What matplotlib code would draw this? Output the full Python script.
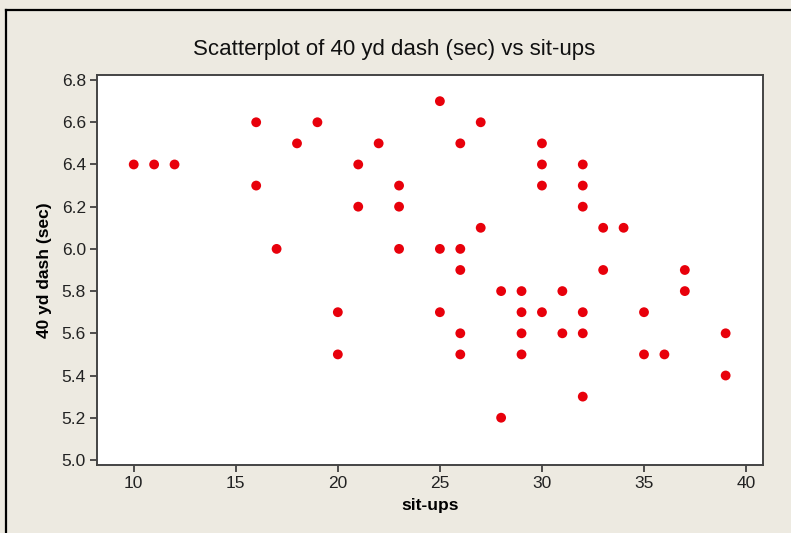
import matplotlib
matplotlib.use("Agg")
import matplotlib.pyplot as plt
from matplotlib.lines import Line2D

# sit-ups vs 40 yd dash time (sec)
situps = [10, 11, 12,
          16, 16, 17, 18, 19,
          20, 20, 21, 21, 22,
          23, 23, 23,
          25, 25, 25,
          26, 26, 26, 26, 26,
          27, 27, 28, 28,
          29, 29, 29, 29,
          30, 30, 30, 30,
          31, 31,
          32, 32, 32, 32, 32, 32,
          33, 33, 34, 35, 35, 36, 37, 37, 39, 39]
dash = [6.4, 6.4, 6.4,
        6.6, 6.3, 6.0, 6.5, 6.6,
        5.7, 5.5, 6.4, 6.2, 6.5,
        6.3, 6.2, 6.0,
        6.7, 6.0, 5.7,
        6.5, 6.0, 5.9, 5.6, 5.5,
        6.6, 6.1, 5.8, 5.2,
        5.8, 5.7, 5.6, 5.5,
        6.5, 6.4, 6.3, 5.7,
        5.8, 5.6,
        6.4, 6.3, 6.2, 5.7, 5.6, 5.3,
        6.1, 5.9, 6.1, 5.7, 5.5, 5.5, 5.9, 5.8, 5.6, 5.4]

xticks = [10, 15, 20, 25, 30, 35, 40]
yticks = [5.0, 5.2, 5.4, 5.6, 5.8, 6.0, 6.2, 6.4, 6.6, 6.8]

BG = "#EDEAE1"
plt.rcParams["font.family"] = ["Liberation Sans", "DejaVu Sans"]

fig = plt.figure(figsize=(7.91, 5.33), dpi=100, facecolor=BG)
ax = fig.add_axes([0.1226, 0.1276, 0.842, 0.7317])
ax.set_facecolor("white")

ax.scatter(situps, dash, s=50, color="#E8000B", edgecolors="none", zorder=3)

ax.set_xlim(8.2, 40.83)
ax.set_ylim(4.976, 6.824)
ax.set_xticks(xticks)
ax.set_xticklabels([str(t) for t in xticks])
ax.set_yticks(yticks)
ax.set_yticklabels([f"{t:.1f}" for t in yticks])
ax.tick_params(direction="out", length=5, width=1.2, color="#333333",
               labelsize=12.5, labelcolor="#222222", pad=3)
for sp in ax.spines.values():
    sp.set_color("#444444")
    sp.set_linewidth(1.4)

ax.set_xlabel("sit-ups", fontsize=12.5, fontweight="bold", labelpad=5)
ax.set_ylabel("40 yd dash (sec)", fontsize=12.5, fontweight="bold", labelpad=7)
fig.text(0.4985, 0.908, "Scatterplot of 40 yd dash (sec) vs sit-ups",
         ha="center", va="center", fontsize=16, color="#111111")

# outer window frame (top and left edges only)
fig.add_artist(Line2D([0.0075, 1.0], [0.982, 0.982], color="black", lw=1.6))
fig.add_artist(Line2D([0.0075, 0.0075], [0.0, 0.982], color="black", lw=1.6))

fig.savefig("out.png", dpi=100, facecolor=BG)
